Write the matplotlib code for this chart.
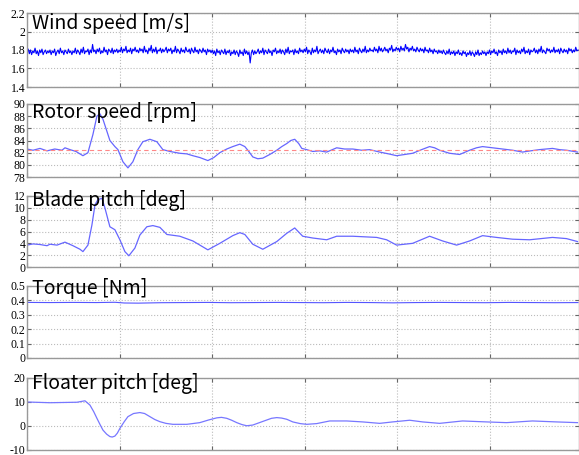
import numpy as np
import matplotlib
matplotlib.use("Agg")
import matplotlib.pyplot as plt
from matplotlib.ticker import FormatStrFormatter

# ---- data (time in s, grid every 100 s) ----
wind_speed = [
    1.78, 1.81, 1.76, 1.80, 1.75, 1.79, 1.77, 1.82, 1.76, 1.79, 1.74, 1.80, 1.77, 1.81, 1.75, 1.78, 1.80, 1.76, 1.79, 1.77,
    1.80, 1.75, 1.79, 1.77, 1.81, 1.74, 1.78, 1.80, 1.76, 1.82, 1.77, 1.79, 1.75, 1.80, 1.78, 1.76, 1.81, 1.77, 1.79, 1.75,
    1.79, 1.77, 1.82, 1.76, 1.80, 1.78, 1.75, 1.81, 1.77, 1.83, 1.76, 1.79, 1.78, 1.81, 1.75, 1.80, 1.77, 1.86, 1.78, 1.80,
    1.76, 1.81, 1.78, 1.82, 1.76, 1.79, 1.77, 1.83, 1.78, 1.80, 1.75, 1.81, 1.79, 1.77, 1.82, 1.76, 1.80, 1.78, 1.81, 1.77,
    1.80, 1.78, 1.83, 1.77, 1.81, 1.79, 1.84, 1.77, 1.80, 1.78, 1.82, 1.76, 1.81, 1.79, 1.83, 1.78, 1.80, 1.77, 1.82, 1.79,
    1.81, 1.77, 1.84, 1.78, 1.80, 1.76, 1.82, 1.79, 1.85, 1.77, 1.81, 1.78, 1.83, 1.76, 1.80, 1.79, 1.82, 1.77, 1.81, 1.78,
    1.80, 1.83, 1.77, 1.81, 1.79, 1.82, 1.76, 1.80, 1.78, 1.84, 1.77, 1.81, 1.79, 1.76, 1.82, 1.78, 1.80, 1.77, 1.83, 1.79,
    1.78, 1.81, 1.76, 1.82, 1.79, 1.77, 1.83, 1.78, 1.80, 1.76, 1.81, 1.79, 1.77, 1.82, 1.78, 1.80, 1.75, 1.81, 1.78, 1.80,
    1.77, 1.80, 1.76, 1.79, 1.74, 1.81, 1.77, 1.79, 1.75, 1.80, 1.78, 1.76, 1.81, 1.75, 1.79, 1.77, 1.80, 1.74, 1.78, 1.76,
    1.80, 1.75, 1.79, 1.77, 1.73, 1.80, 1.76, 1.78, 1.74, 1.81, 1.76, 1.79, 1.75, 1.78, 1.66, 1.77, 1.80, 1.75, 1.79, 1.76,
    1.78, 1.81, 1.76, 1.79, 1.77, 1.82, 1.75, 1.80, 1.78, 1.76, 1.81, 1.77, 1.79, 1.74, 1.80, 1.78, 1.82, 1.76, 1.79, 1.77,
    1.81, 1.76, 1.80, 1.78, 1.75, 1.81, 1.77, 1.83, 1.76, 1.79, 1.78, 1.80, 1.75, 1.81, 1.77, 1.79, 1.76, 1.82, 1.78, 1.80,
    1.77, 1.81, 1.78, 1.83, 1.76, 1.80, 1.78, 1.75, 1.82, 1.77, 1.80, 1.78, 1.84, 1.76, 1.79, 1.81, 1.77, 1.80, 1.76, 1.82,
    1.79, 1.77, 1.81, 1.76, 1.80, 1.78, 1.83, 1.77, 1.79, 1.75, 1.81, 1.78, 1.80, 1.76, 1.82, 1.79, 1.77, 1.81, 1.78, 1.80,
    1.76, 1.81, 1.78, 1.80, 1.77, 1.83, 1.78, 1.80, 1.76, 1.82, 1.79, 1.77, 1.81, 1.78, 1.84, 1.77, 1.80, 1.78, 1.82, 1.79,
    1.80, 1.78, 1.83, 1.79, 1.81, 1.77, 1.84, 1.79, 1.82, 1.78, 1.80, 1.83, 1.79, 1.81, 1.77, 1.82, 1.80, 1.85, 1.78, 1.81,
    1.79, 1.83, 1.80, 1.82, 1.78, 1.84, 1.80, 1.82, 1.79, 1.86, 1.81, 1.83, 1.78, 1.82, 1.80, 1.84, 1.79, 1.81, 1.78, 1.83,
    1.80, 1.78, 1.82, 1.79, 1.81, 1.77, 1.83, 1.79, 1.80, 1.77, 1.82, 1.78, 1.80, 1.76, 1.81, 1.78, 1.79, 1.76, 1.80, 1.77,
    1.79, 1.76, 1.80, 1.77, 1.75, 1.79, 1.76, 1.81, 1.75, 1.78, 1.76, 1.79, 1.74, 1.78, 1.76, 1.80, 1.75, 1.77, 1.74, 1.79,
    1.76, 1.78, 1.73, 1.77, 1.75, 1.79, 1.74, 1.78, 1.76, 1.73, 1.78, 1.75, 1.80, 1.74, 1.77, 1.75, 1.79, 1.76, 1.78, 1.74,
    1.78, 1.76, 1.80, 1.75, 1.79, 1.77, 1.81, 1.76, 1.78, 1.74, 1.80, 1.77, 1.79, 1.75, 1.81, 1.77, 1.79, 1.76, 1.82, 1.77,
    1.80, 1.76, 1.79, 1.78, 1.82, 1.75, 1.80, 1.77, 1.79, 1.76, 1.81, 1.78, 1.83, 1.76, 1.79, 1.77, 1.81, 1.75, 1.80, 1.78,
    1.79, 1.82, 1.77, 1.80, 1.76, 1.81, 1.78, 1.84, 1.77, 1.80, 1.78, 1.76, 1.82, 1.79, 1.81, 1.77, 1.80, 1.78, 1.83, 1.77,
    1.80, 1.78, 1.81, 1.76, 1.82, 1.79, 1.77, 1.81, 1.78, 1.80, 1.76, 1.82, 1.79, 1.81, 1.77, 1.80, 1.78, 1.83, 1.79, 1.80,
]
wind_time = np.linspace(0, 595, len(wind_speed))

rotor_time = [0, 6.5, 14, 21.6, 30, 37.8, 41, 46.4, 52.9, 60.4, 65.8, 71.2, 75.5, 78.7, 82, 86.3,
              89.5, 94.9, 98.2, 103.6, 109, 114.3, 119.7, 125.1, 132.7, 140.2, 146.7, 154.3,
              165, 172.6, 179.1, 186.6, 195.3, 201.7, 208.2, 215.7, 222.2, 229.8, 235.2, 239.5,
              243.8, 249.2, 254.6, 262.1, 269.7, 275.1, 280.5, 284.8, 289.1, 293.4, 296.7, 302,
              308.5, 316, 323.6, 334.4, 343, 351.7, 361.4, 370, 380.8, 390.5, 399.1, 407.8,
              416.4, 426.1, 434.7, 440.1, 445.5, 456.3, 467.1, 477.9, 485.4, 491.9, 502.7,
              513.5, 524.3, 535, 543.7, 553.4, 567.4, 575, 582.5, 594.4]
rotor_speed = [82.6, 82.4, 82.7, 82.3, 82.6, 82.4, 82.8, 82.5, 82.2, 81.5, 82.0, 85.0, 88.0, 88.4, 87.5, 85.5,
               84.0, 83.0, 82.5, 80.5, 79.5, 80.5, 82.5, 83.8, 84.2, 83.8, 82.5, 82.2,
               81.9, 81.8, 81.5, 81.2, 80.7, 81.2, 82.0, 82.6, 83.0, 83.4, 83.0, 82.2,
               81.3, 81.0, 81.1, 81.7, 82.4, 83.0, 83.5, 84.0, 84.2, 83.5, 82.7, 82.5,
               82.2, 82.3, 82.1, 82.8, 82.6, 82.6, 82.4, 82.5, 82.1, 81.8, 81.5, 81.7,
               81.9, 82.5, 83.0, 82.8, 82.4, 81.9, 81.7, 82.4, 82.8, 83.0, 82.8,
               82.6, 82.4, 82.1, 82.3, 82.5, 82.7, 82.5, 82.4, 82.1]
rated_rotor_speed = 82.4

pitch_time = [0, 6.5, 14, 21.6, 24.8, 32.4, 41, 49.6, 57.2, 60.4, 65.8, 70.1, 73.4, 76.6, 80.9, 84.1,
              89.5, 94.9, 100.3, 105.7, 110, 116.5, 121.9, 129.4, 135.9, 143.5, 151, 165, 179.1,
              195.3, 208.2, 222.2, 229.8, 235.2, 243.8, 254.6, 269.7, 280.5, 289.1, 297.7, 308.5,
              323.6, 334.4, 351.7, 364.6, 377.6, 388.3, 399.1, 416.4, 434.7, 448.8, 463.9, 477.9,
              491.9, 507, 524.3, 542.6, 567.4, 582.5, 594.4]
blade_pitch = [3.7, 3.9, 3.8, 3.6, 3.85, 3.7, 4.2, 3.6, 3.0, 2.6, 3.7, 7.1, 10.5, 11.4, 11.6, 10.0,
               6.8, 6.3, 4.6, 2.6, 1.9, 3.2, 5.4, 6.8, 7.0, 6.7, 5.5, 5.2, 4.4,
               2.9, 4.0, 5.3, 5.8, 5.5, 3.85, 3.0, 4.3, 5.7, 6.6, 5.2, 4.9,
               4.6, 5.2, 5.2, 5.1, 5.0, 4.6, 3.7, 4.0, 5.2, 4.4, 3.7, 4.4,
               5.3, 5.0, 4.7, 4.6, 5.0, 4.8, 4.3]

torque_time = [0, 25, 50, 75, 95, 105, 120, 145, 170, 195, 220, 245, 270, 295, 320,
               345, 370, 395, 420, 445, 470, 495, 520, 545, 570, 595]
torque = [0.386, 0.385, 0.386, 0.385, 0.387, 0.382, 0.381, 0.384, 0.385, 0.386, 0.384, 0.385, 0.386,
          0.385, 0.384, 0.386, 0.385, 0.383, 0.385, 0.386, 0.385, 0.384, 0.386, 0.385, 0.384, 0.385]

floater_time = [0, 24.8, 53.9, 62.6, 68, 72, 75.5, 79, 82, 86, 89.5, 92, 94.9, 97.5, 100.3, 105, 109, 115,
                121.9, 127, 132.7, 138, 143.5, 150, 157.5, 172.6, 186.6, 196, 205, 210, 215.7, 221,
                226.5, 232, 237.3, 243.8, 251, 258.9, 264, 269.7, 275, 280.5, 287, 295, 302, 312.8,
                326.9, 345.2, 362.5, 380.8, 394.8, 413.2, 427.2, 445.5, 470.3, 496.2, 517.8, 545.8,
                571.7, 594.4]
floater_pitch = [10.0, 9.7, 9.9, 10.5, 8.7, 6.0, 3.2, 0.5, -1.7, -3.4, -4.4, -4.6, -4.2, -3.0, -1.0, 1.8,
                 3.9, 5.2, 5.6, 5.2, 3.9, 2.7, 1.8, 1.1, 0.7, 0.7, 1.4, 2.5, 3.4, 3.6, 3.2, 2.4,
                 1.4, 0.6, 0.1, 0.4, 1.4, 2.5, 3.2, 3.5, 3.3, 2.8, 1.7, 1.0, 0.7, 1.0,
                 2.1, 2.1, 1.7, 1.1, 1.7, 2.4, 1.7, 1.1, 2.1, 1.7, 1.4, 2.1,
                 1.7, 1.4]

titles = ["Wind speed [m/s]", "Rotor speed [rpm]", "Blade pitch [deg]", "Torque [Nm]", "Floater pitch [deg]"]
y_limits = [(1.4, 2.2), (78, 90), (0, 12), (0, 0.5), (-10, 20)]
y_ticks = [[1.4, 1.6, 1.8, 2.0, 2.2], list(range(78, 91, 2)), list(range(0, 13, 2)),
           [0, 0.1, 0.2, 0.3, 0.4, 0.5], [-10, 0, 10, 20]]

# ---- layout (pixels of the 579x455 reference) ----
W, H = 579, 455
panel_px = [(13, 87), (104, 177), (196, 267), (286, 358), (378, 450)]
title_baseline_px = [29, 118, 206, 294, 389]
left_px, right_px = 27, 578.5

fig = plt.figure(figsize=(W / 100, H / 100), dpi=100)

series = [(wind_time, wind_speed, "#0000ff", 0.8),
          (rotor_time, rotor_speed, "#6666ff", 0.9),
          (pitch_time, blade_pitch, "#6666ff", 0.9),
          (torque_time, torque, "#5555ff", 0.8),
          (floater_time, floater_pitch, "#7777ff", 0.9)]

for i, (top, bot) in enumerate(panel_px):
    ax = fig.add_axes([left_px / W, 1 - bot / H, (right_px - left_px) / W, (bot - top) / H])
    t, y, c, lw = series[i]
    ax.plot(t, y, color=c, lw=lw)
    if i == 1:
        ax.axhline(rated_rotor_speed, color="#ff8888", ls="--", lw=0.8, dashes=(4, 3))
    ax.set_xlim(0, 595.5)
    ax.set_ylim(*y_limits[i])
    ax.set_xticks([0, 100, 200, 300, 400, 500])
    ax.set_xticklabels([])
    ax.set_yticks(y_ticks[i])
    ax.yaxis.set_major_formatter(FormatStrFormatter("%g"))
    ax.grid(True, linestyle=":", color="#bbbbbb", linewidth=0.8)
    ax.tick_params(direction="in", top=True, right=True, length=3, width=0.8,
                   color="#666666", pad=1)
    for lab in ax.get_yticklabels():
        lab.set_fontfamily("Liberation Serif")
        lab.set_fontsize(8.5)
    for s in ax.spines.values():
        s.set_color("#999999")
        s.set_linewidth(1.0)
    fig.text(32 / W, 1 - title_baseline_px[i] / H, titles[i], fontsize=14,
             family="Noto Sans CJK JP", va="baseline", ha="left", color="black")

plt.savefig("out.png", dpi=100)
